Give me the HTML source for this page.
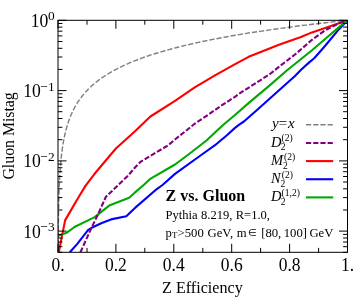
<!DOCTYPE html><html><head><meta charset="utf-8"><style>html,body{margin:0;padding:0;background:#fff}body{width:354px;height:298px;overflow:hidden;position:relative;font-family:"Liberation Serif",serif}</style></head><body><svg width="354" height="298" viewBox="0 0 354 298" style="position:absolute;left:0;top:0;will-change:transform">
<defs><clipPath id="c"><rect x="58" y="20.3" width="289.5" height="232"/></clipPath></defs>
<g clip-path="url(#c)" fill="none" stroke-linejoin="round">
<polyline stroke="#808080" stroke-width="1.45" stroke-dasharray="5.2 2" points="58.1,259.3 58.1,258.7 58.1,258.1 58.1,257.5 58.1,256.9 58.1,256.3 58.1,255.7 58.1,255.1 58.1,254.5 58.1,253.9 58.1,253.3 58.1,252.7 58.1,252.1 58.1,251.5 58.2,250.9 58.2,250.3 58.2,249.7 58.2,249.1 58.2,248.5 58.2,247.9 58.2,247.3 58.2,246.7 58.2,246.1 58.2,245.5 58.2,244.9 58.2,244.3 58.2,243.7 58.2,243.1 58.2,242.5 58.2,241.9 58.2,241.3 58.2,240.7 58.2,240.1 58.2,239.5 58.2,238.9 58.2,238.3 58.2,237.7 58.2,237.2 58.2,236.6 58.2,236.0 58.3,235.4 58.3,234.8 58.3,234.2 58.3,233.6 58.3,233.0 58.3,232.4 58.3,231.8 58.3,231.2 58.3,230.6 58.3,230.0 58.3,229.4 58.3,228.8 58.3,228.2 58.3,227.6 58.3,227.0 58.3,226.4 58.3,225.8 58.4,225.2 58.4,224.6 58.4,224.0 58.4,223.4 58.4,222.8 58.4,222.2 58.4,221.6 58.4,221.0 58.4,220.4 58.4,219.8 58.4,219.2 58.4,218.6 58.4,218.0 58.5,217.4 58.5,216.8 58.5,216.2 58.5,215.6 58.5,215.0 58.5,214.5 58.5,213.9 58.5,213.3 58.5,212.7 58.5,212.1 58.6,211.5 58.6,210.9 58.6,210.3 58.6,209.7 58.6,209.1 58.6,208.5 58.6,207.9 58.6,207.3 58.6,206.7 58.7,206.1 58.7,205.5 58.7,204.9 58.7,204.3 58.7,203.7 58.7,203.1 58.7,202.5 58.8,201.9 58.8,201.3 58.8,200.7 58.8,200.1 58.8,199.5 58.8,198.9 58.8,198.3 58.9,197.7 58.9,197.1 58.9,196.5 58.9,195.9 58.9,195.3 59.0,194.7 59.0,194.1 59.0,193.5 59.0,192.9 59.0,192.3 59.1,191.8 59.1,191.2 59.1,190.6 59.1,190.0 59.1,189.4 59.2,188.8 59.2,188.2 59.2,187.6 59.2,187.0 59.3,186.4 59.3,185.8 59.3,185.2 59.3,184.6 59.4,184.0 59.4,183.4 59.4,182.8 59.4,182.2 59.5,181.6 59.5,181.0 59.5,180.4 59.6,179.8 59.6,179.2 59.6,178.6 59.7,178.0 59.7,177.4 59.7,176.8 59.8,176.2 59.8,175.6 59.8,175.0 59.9,174.4 59.9,173.8 59.9,173.2 60.0,172.6 60.0,172.0 60.0,171.4 60.1,170.8 60.1,170.2 60.2,169.6 60.2,169.0 60.3,168.5 60.3,167.9 60.3,167.3 60.4,166.7 60.4,166.1 60.5,165.5 60.5,164.9 60.6,164.3 60.6,163.7 60.7,163.1 60.7,162.5 60.8,161.9 60.9,161.3 60.9,160.7 61.0,160.1 61.0,159.5 61.1,158.9 61.1,158.3 61.2,157.7 61.3,157.1 61.3,156.5 61.4,155.9 61.5,155.3 61.5,154.7 61.6,154.1 61.7,153.5 61.8,152.9 61.8,152.3 61.9,151.7 62.0,151.1 62.1,150.5 62.1,149.9 62.2,149.3 62.3,148.7 62.4,148.1 62.5,147.5 62.6,146.9 62.7,146.3 62.7,145.8 62.8,145.2 62.9,144.6 63.0,144.0 63.1,143.4 63.2,142.8 63.3,142.2 63.4,141.6 63.6,141.0 63.7,140.4 63.8,139.8 63.9,139.2 64.0,138.6 64.1,138.0 64.2,137.4 64.4,136.8 64.5,136.2 64.6,135.6 64.8,135.0 64.9,134.4 65.0,133.8 65.2,133.2 65.3,132.6 65.4,132.0 65.6,131.4 65.7,130.8 65.9,130.2 66.1,129.6 66.2,129.0 66.4,128.4 66.5,127.8 66.7,127.2 66.9,126.6 67.1,126.0 67.2,125.4 67.4,124.8 67.6,124.2 67.8,123.6 68.0,123.1 68.2,122.5 68.4,121.9 68.6,121.3 68.8,120.7 69.0,120.1 69.2,119.5 69.5,118.9 69.7,118.3 69.9,117.7 70.2,117.1 70.4,116.5 70.6,115.9 70.9,115.3 71.1,114.7 71.4,114.1 71.7,113.5 71.9,112.9 72.2,112.3 72.5,111.7 72.8,111.1 73.1,110.5 73.4,109.9 73.7,109.3 74.0,108.7 74.3,108.1 74.6,107.5 74.9,106.9 75.3,106.3 75.6,105.7 76.0,105.1 76.3,104.5 76.7,103.9 77.1,103.3 77.4,102.7 77.8,102.1 78.2,101.5 78.6,100.9 79.0,100.4 79.4,99.8 79.9,99.2 80.3,98.6 80.7,98.0 81.2,97.4 81.6,96.8 82.1,96.2 82.6,95.6 83.1,95.0 83.6,94.4 84.1,93.8 84.6,93.2 85.1,92.6 85.6,92.0 86.2,91.4 86.8,90.8 87.3,90.2 87.9,89.6 88.5,89.0 89.1,88.4 89.7,87.8 90.3,87.2 91.0,86.6 91.6,86.0 92.3,85.4 93.0,84.8 93.7,84.2 94.4,83.6 95.1,83.0 95.8,82.4 96.6,81.8 97.3,81.2 98.1,80.6 98.9,80.0 99.7,79.4 100.5,78.8 101.4,78.2 102.2,77.6 103.1,77.1 104.0,76.5 104.9,75.9 105.8,75.3 106.8,74.7 107.7,74.1 108.7,73.5 109.7,72.9 110.7,72.3 111.8,71.7 112.8,71.1 113.9,70.5 115.0,69.9 116.2,69.3 117.3,68.7 118.5,68.1 119.7,67.5 120.9,66.9 122.1,66.3 123.4,65.7 124.7,65.1 126.0,64.5 127.4,63.9 128.7,63.3 130.1,62.7 131.6,62.1 133.0,61.5 134.5,60.9 136.0,60.3 137.6,59.7 139.1,59.1 140.7,58.5 142.4,57.9 144.0,57.3 145.7,56.7 147.5,56.1 149.2,55.5 151.0,54.9 152.9,54.4 154.7,53.8 156.7,53.2 158.6,52.6 160.6,52.0 162.6,51.4 164.7,50.8 166.8,50.2 169.0,49.6 171.1,49.0 173.4,48.4 175.7,47.8 178.0,47.2 180.4,46.6 182.8,46.0 185.2,45.4 187.8,44.8 190.3,44.2 192.9,43.6 195.6,43.0 198.3,42.4 201.1,41.8 203.9,41.2 206.8,40.6 209.8,40.0 212.8,39.4 215.8,38.8 218.9,38.2 222.1,37.6 225.4,37.0 228.7,36.4 232.0,35.8 235.5,35.2 239.0,34.6 242.6,34.0 246.2,33.4 249.9,32.8 253.7,32.2 257.6,31.7 261.5,31.1 265.6,30.5 269.7,29.9 273.8,29.3 278.1,28.7 282.5,28.1 286.9,27.5 291.4,26.9 296.0,26.3 300.7,25.7 305.5,25.1 310.4,24.5 315.4,23.9 320.5,23.3 325.7,22.7 331.0,22.1 336.4,21.5 341.9,20.9 347.5,20.3"/>
<polyline stroke="#ff0000" stroke-width="2.1" points="58.8,252.3 65.1,220.4 76.9,200.0 85.6,185.6 95.0,173.3 115.9,148.5 135.0,131.2 150.4,116.5 175.0,100.8 195.1,87.1 215.0,75.3 235.1,64.2 248.6,56.8 255.0,54.2 279.6,44.6 300.3,37.2 312.0,32.4 347.5,20.3"/>
<polyline stroke="#0000ff" stroke-width="2.1" points="69.8,252.3 77.3,243.9 88.2,229.8 91.7,227.8 101.8,223.0 111.0,219.4 126.3,216.2 135.0,207.9 155.4,190.2 162.5,185.0 175.0,173.9 201.2,155.0 215.0,145.2 227.2,135.0 235.0,127.9 239.2,124.6 243.9,121.5 257.0,110.0 295.0,76.0 300.8,70.0 308.9,62.6 314.2,58.2 318.0,54.0 325.4,45.5 338.8,29.4 347.5,20.3"/>
<polyline stroke="#00a800" stroke-width="2.1" points="58.4,235.8 66.5,232.8 74.5,227.0 92.6,218.1 95.0,216.8 109.8,205.2 129.2,197.8 135.0,192.4 143.7,185.0 149.8,179.2 175.0,164.5 187.8,155.0 206.5,140.5 215.0,132.4 223.1,125.0 235.0,115.0 250.0,101.9 270.0,85.1 287.4,70.0 312.0,50.2 325.4,38.8 338.8,27.4 347.5,20.3"/>
<polyline stroke="#800080" stroke-width="2.1" stroke-dasharray="5.2 2" points="80.4,252.3 90.7,229.5 97.7,215.0 105.9,196.8 123.7,179.8 128.6,175.0 135.0,167.5 140.4,161.9 168.3,145.2 175.0,139.5 195.0,123.5 208.6,114.5 220.0,106.5 235.0,96.8 240.0,93.2 255.0,83.6 270.0,74.0 280.0,66.0 295.0,54.5 312.0,39.8 325.4,30.1 338.8,23.4 347.5,20.3"/>
</g>
<g stroke="#000" stroke-width="1" fill="none">
<rect x="58" y="20.3" width="289.5" height="232"/>
<path d="M58.0 252.3v-8.5M58.0 20.3v8.5M87.0 252.3v-4.4M87.0 20.3v4.4M115.9 252.3v-8.5M115.9 20.3v8.5M144.8 252.3v-4.4M144.8 20.3v4.4M173.8 252.3v-8.5M173.8 20.3v8.5M202.8 252.3v-4.4M202.8 20.3v4.4M231.7 252.3v-8.5M231.7 20.3v8.5M260.6 252.3v-4.4M260.6 20.3v4.4M289.6 252.3v-8.5M289.6 20.3v8.5M318.6 252.3v-4.4M318.6 20.3v4.4M347.5 252.3v-8.5M347.5 20.3v8.5M58.0 252.3h4.4M347.5 252.3h-4.4M58.0 246.7h4.4M347.5 246.7h-4.4M58.0 242.0h4.4M347.5 242.0h-4.4M58.0 238.0h4.4M347.5 238.0h-4.4M58.0 234.4h4.4M347.5 234.4h-4.4M58.0 231.1h8.5M347.5 231.1h-8.5M58.0 210.0h4.4M347.5 210.0h-4.4M58.0 197.6h4.4M347.5 197.6h-4.4M58.0 188.8h4.4M347.5 188.8h-4.4M58.0 182.0h4.4M347.5 182.0h-4.4M58.0 176.5h4.4M347.5 176.5h-4.4M58.0 171.7h4.4M347.5 171.7h-4.4M58.0 167.7h4.4M347.5 167.7h-4.4M58.0 164.1h4.4M347.5 164.1h-4.4M58.0 160.9h8.5M347.5 160.9h-8.5M58.0 139.7h4.4M347.5 139.7h-4.4M58.0 127.3h4.4M347.5 127.3h-4.4M58.0 118.5h4.4M347.5 118.5h-4.4M58.0 111.7h4.4M347.5 111.7h-4.4M58.0 106.2h4.4M347.5 106.2h-4.4M58.0 101.5h4.4M347.5 101.5h-4.4M58.0 97.4h4.4M347.5 97.4h-4.4M58.0 93.8h4.4M347.5 93.8h-4.4M58.0 90.6h8.5M347.5 90.6h-8.5M58.0 69.4h4.4M347.5 69.4h-4.4M58.0 57.0h4.4M347.5 57.0h-4.4M58.0 48.3h4.4M347.5 48.3h-4.4M58.0 41.5h4.4M347.5 41.5h-4.4M58.0 35.9h4.4M347.5 35.9h-4.4M58.0 31.2h4.4M347.5 31.2h-4.4M58.0 27.1h4.4M347.5 27.1h-4.4M58.0 23.5h4.4M347.5 23.5h-4.4M58.0 20.3h8.5M347.5 20.3h-8.5"/>
</g>
<line x1="306" y1="124.8" x2="333.2" y2="124.8" stroke="#808080" stroke-width="1.45" stroke-dasharray="5.2 2"/>
<line x1="306" y1="142.95" x2="333.2" y2="142.95" stroke="#800080" stroke-width="2.1" stroke-dasharray="5.2 2"/>
<line x1="306" y1="161.1" x2="333.2" y2="161.1" stroke="#ff0000" stroke-width="2.1"/>
<line x1="306" y1="179.25" x2="333.2" y2="179.25" stroke="#0000ff" stroke-width="2.1"/>
<line x1="306" y1="197.4" x2="333.2" y2="197.4" stroke="#00a800" stroke-width="2.1"/>
<g font-family="Liberation Serif, serif" fill="#000">
<text transform="translate(58.0,271.1) scale(1,1.04)" font-size="17.5" text-anchor="middle">0.</text>
<text transform="translate(115.9,271.1) scale(1,1.04)" font-size="17.5" text-anchor="middle">0.2</text>
<text transform="translate(173.8,271.1) scale(1,1.04)" font-size="17.5" text-anchor="middle">0.4</text>
<text transform="translate(231.7,271.1) scale(1,1.04)" font-size="17.5" text-anchor="middle">0.6</text>
<text transform="translate(289.6,271.1) scale(1,1.04)" font-size="17.5" text-anchor="middle">0.8</text>
<text transform="translate(347.5,271.1) scale(1,1.04)" font-size="17.5" text-anchor="middle">1.</text>
<text x="202.4" y="293.2" font-size="16.1" text-anchor="middle">Z Efficiency</text>
<text transform="translate(13.6,135.9) rotate(-90)" font-size="15.8" text-anchor="middle">Gluon Mistag</text>
<text transform="translate(48.3,26.7) scale(1,1.06)" font-size="17.6" text-anchor="end">10</text>
<text transform="translate(54.6,20.4) scale(1,1.0)" font-size="13.4" text-anchor="end">0</text>
<text transform="translate(40.9,97.0) scale(1,1.06)" font-size="17.6" text-anchor="end">10</text>
<text transform="translate(54.6,90.7) scale(1,1.0)" font-size="13.4" text-anchor="end">−1</text>
<text transform="translate(40.9,167.3) scale(1,1.06)" font-size="17.6" text-anchor="end">10</text>
<text transform="translate(54.6,161.0) scale(1,1.0)" font-size="13.4" text-anchor="end">−2</text>
<text transform="translate(40.9,237.5) scale(1,1.06)" font-size="17.6" text-anchor="end">10</text>
<text transform="translate(54.6,231.2) scale(1,1.0)" font-size="13.4" text-anchor="end">−3</text>
<text x="271.9" y="128.3" font-size="15" font-style="italic">y<tspan dx="-0.8">=</tspan><tspan dx="0">x</tspan></text>
<text x="271.1" y="146.9" font-size="14.5" font-style="italic">D<tspan font-style="normal" font-size="9.6" x="280.8" dy="3.4">2</tspan><tspan font-style="normal" font-size="9.6" x="281.6" dy="-9.0">(2)</tspan></text>
<text x="271.1" y="165.1" font-size="14.5" font-style="italic">M<tspan font-style="normal" font-size="9.6" x="282.9" dy="3.4">2</tspan><tspan font-style="normal" font-size="9.6" x="284.1" dy="-9.0">(2)</tspan></text>
<text x="271.1" y="183.3" font-size="14.5" font-style="italic">N<tspan font-style="normal" font-size="9.6" x="280.6" dy="3.4">2</tspan><tspan font-style="normal" font-size="9.6" x="281.7" dy="-9.0">(2)</tspan></text>
<text x="271.1" y="201.3" font-size="14.5" font-style="italic">D<tspan font-style="normal" font-size="9.6" x="280.8" dy="3.4">2</tspan><tspan font-style="normal" font-size="9.6" x="281.6" dy="-9.0">(1,2)</tspan></text>
<text x="165.6" y="201.2" font-size="16" font-weight="bold">Z vs. Gluon</text>
<text x="165.6" y="218.6" font-size="12.55" word-spacing="0.2">Pythia 8.219, R=1.0,</text>
<text x="165.6" y="236.6" font-size="12.7" word-spacing="0.6">p<tspan font-size="8.8" dy="1.4">T</tspan><tspan dy="-1.4" dx="0.3">&gt;500 GeV, m </tspan><tspan font-size="9.5" dy="-0.5" dx="-2.0">∈</tspan><tspan dy="0.5" dx="1.2" word-spacing="-0.7"> [80, 100] GeV</tspan></text>
</g>
</svg></body></html>
